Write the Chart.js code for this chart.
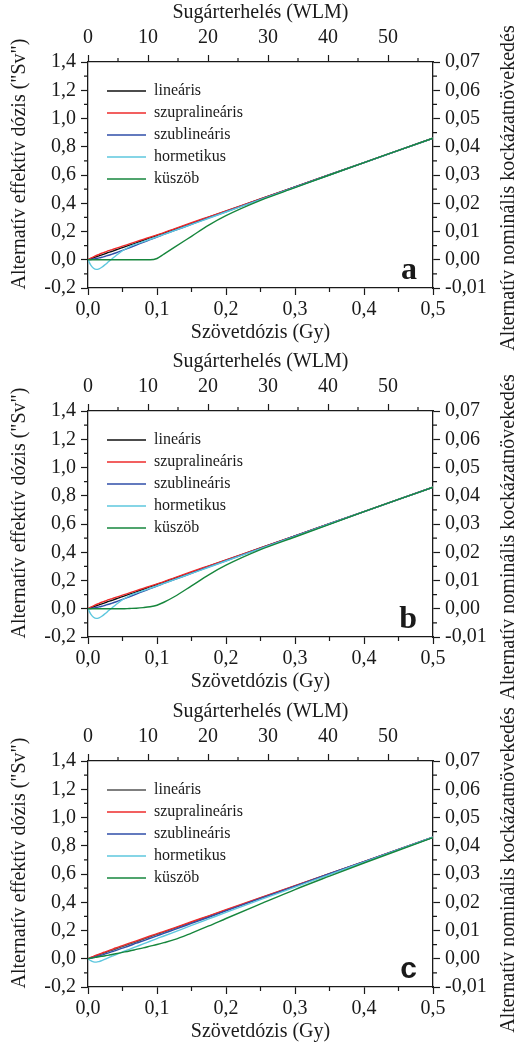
<!DOCTYPE html>
<html>
<head>
<meta charset="utf-8">
<script src="https://cdn.jsdelivr.net/npm/chart.js@4.4.1/dist/chart.umd.min.js"></script>
<style>
  html, body { margin: 0; padding: 0; background: #fff; }
  body { width: 521px; height: 1045px; overflow: hidden; position: relative; }
  canvas { position: absolute; left: 0; }
</style>
</head>
<body>
<canvas id="panelA" width="521" height="380" style="top:0px"></canvas>
<canvas id="panelB" width="521" height="380" style="top:349px"></canvas>
<canvas id="panelC" width="521" height="380" style="top:699px"></canvas>
<script>
// tissue dose grid (Gy), shared by every curve
const doseGy = [0, 0.004, 0.008, 0.012, 0.016, 0.02, 0.025, 0.03, 0.035, 0.04, 0.05, 0.06, 0.07,
  0.08, 0.09, 0.1, 0.11, 0.125, 0.15, 0.175, 0.2, 0.25, 0.3, 0.35, 0.4, 0.45, 0.5];

const seriesNames = ['lineáris', 'szupralineáris', 'szublineáris', 'hormetikus', 'küszöb'];

// alternative effective dose ("Sv")
const linearis = [0, 0.007, 0.014, 0.021, 0.028, 0.034, 0.043, 0.052, 0.060, 0.069, 0.086, 0.103, 0.120,
  0.138, 0.155, 0.172, 0.189, 0.215, 0.258, 0.301, 0.344, 0.430, 0.516, 0.602, 0.688, 0.774, 0.860];

const szupraAB = [0, 0.011, 0.021, 0.030, 0.038, 0.046, 0.055, 0.064, 0.072, 0.080, 0.096, 0.112, 0.128,
  0.144, 0.160, 0.176, 0.192, 0.219, 0.262, 0.304, 0.346, 0.431, 0.516, 0.602, 0.688, 0.774, 0.860];
const szubAB = [0, 0.002, 0.005, 0.009, 0.013, 0.018, 0.025, 0.032, 0.040, 0.048, 0.066, 0.085, 0.104,
  0.123, 0.142, 0.161, 0.179, 0.206, 0.251, 0.296, 0.340, 0.428, 0.515, 0.602, 0.688, 0.774, 0.860];
const hormAB = [0, -0.038, -0.060, -0.068, -0.064, -0.053, -0.034, -0.013, 0.007, 0.027, 0.064, 0.092, 0.112,
  0.128, 0.145, 0.162, 0.180, 0.206, 0.250, 0.294, 0.338, 0.426, 0.513, 0.600, 0.687, 0.774, 0.860];
const kuszobA = [0, 0, 0, 0, 0, 0, 0, 0, 0, 0, 0, 0, 0,
  0, 0, 0.009, 0.040, 0.087, 0.166, 0.245, 0.312, 0.420, 0.510, 0.600, 0.688, 0.774, 0.860];
const kuszobB = [0, 0, 0, 0, 0, 0, 0, 0, 0, 0, 0.000, 0.002, 0.004,
  0.008, 0.014, 0.025, 0.046, 0.085, 0.162, 0.240, 0.308, 0.418, 0.508, 0.598, 0.687, 0.774, 0.860];

const szupraC = [0, 0.009, 0.017, 0.025, 0.032, 0.040, 0.049, 0.058, 0.067, 0.076, 0.093, 0.110, 0.127,
  0.144, 0.161, 0.178, 0.194, 0.219, 0.262, 0.304, 0.347, 0.432, 0.517, 0.602, 0.688, 0.774, 0.860];
const szubC = [0, 0.004, 0.009, 0.014, 0.020, 0.026, 0.034, 0.042, 0.050, 0.058, 0.075, 0.092, 0.110,
  0.127, 0.145, 0.162, 0.180, 0.206, 0.250, 0.294, 0.339, 0.427, 0.514, 0.602, 0.688, 0.774, 0.860];
const hormC = [0, -0.014, -0.022, -0.024, -0.020, -0.013, -0.003, 0.008, 0.018, 0.028, 0.048, 0.067, 0.086,
  0.105, 0.124, 0.143, 0.161, 0.189, 0.236, 0.282, 0.328, 0.418, 0.507, 0.596, 0.684, 0.772, 0.860];
const kuszobC = [0, 0.004, 0.008, 0.011, 0.014, 0.017, 0.021, 0.026, 0.030, 0.035, 0.045, 0.055, 0.066,
  0.077, 0.089, 0.101, 0.114, 0.135, 0.182, 0.232, 0.285, 0.388, 0.490, 0.585, 0.678, 0.768, 0.858];

const serif = '"Liberation Serif", "Times New Roman", serif';
const ink = '#1a1a1a';

function fmt(v, d) {
  const r = Math.abs(v) < 1e-9 ? 0 : v;
  return r.toFixed(d).replace('.', ',');
}

// short outward minor ticks half way between the labelled ones
function minorTicks(ctx, scale, step, len) {
  const n = Math.round((scale.max - scale.min) / step);
  ctx.beginPath();
  for (let i = 1; i < n; i += 2) {
    const p = scale.getPixelForValue(scale.min + i * step);
    if (scale.position === 'bottom') { ctx.moveTo(p, scale.top); ctx.lineTo(p, scale.top + len); }
    if (scale.position === 'top') { ctx.moveTo(p, scale.bottom); ctx.lineTo(p, scale.bottom - len); }
    if (scale.position === 'left') { ctx.moveTo(scale.right, p); ctx.lineTo(scale.right - len, p); }
    if (scale.position === 'right') { ctx.moveTo(scale.left, p); ctx.lineTo(scale.left + len, p); }
  }
  ctx.stroke();
}

function sideTitle(ctx, text, x, y) {
  ctx.save();
  ctx.translate(x, y);
  ctx.rotate(-Math.PI / 2);
  ctx.textAlign = 'center';
  ctx.textBaseline = 'middle';
  ctx.fillText(text, 0, 0);
  ctx.restore();
}

const panelDecor = {
  id: 'panelDecor',
  afterLayout(chart) {
    // park the legend in the upper left of the plot
    const lg = chart.legend;
    const w = lg.width, h = chart.chartArea.bottom - chart.chartArea.top;
    lg.left = chart.chartArea.left + 13;
    lg.top = chart.chartArea.top + 15;
    lg.right = lg.left + w;
    lg.bottom = lg.top + h;
  },
  afterDraw(chart, args, opts) {
    const { ctx, chartArea, scales } = chart;
    ctx.save();
    ctx.strokeStyle = ink;
    ctx.lineWidth = 1.2;
    minorTicks(ctx, scales.x, 0.05, 4);
    minorTicks(ctx, scales.x2, 5, 4);
    minorTicks(ctx, scales.y, 0.1, 4);
    minorTicks(ctx, scales.y2, 0.005, 4);

    ctx.fillStyle = ink;
    ctx.font = '20px ' + serif;
    sideTitle(ctx, 'Alternatív effektív dózis ("Sv")', 20, opts.leftTitleY);
    sideTitle(ctx, 'Alternatív nominális kockázatnövekedés', 509, opts.rightTitleY);

    ctx.font = opts.letterFont;
    ctx.textAlign = 'right';
    ctx.textBaseline = 'alphabetic';
    ctx.fillText(opts.letter, chartArea.right - 16, chartArea.bottom - 9);
    ctx.restore();
  }
};

function axisStyle(extra) {
  return Object.assign({
    type: 'linear',
    grid: { drawOnChartArea: false, drawTicks: true, tickLength: 7, tickColor: ink, tickWidth: 1.2 },
    border: { display: true, color: ink, width: 1.3 }
  }, extra);
}

function buildPanel(id, series, colors, decor) {
  const datasets = seriesNames.map((name, i) => ({
    label: name,
    data: doseGy.map((x, k) => ({ x: x, y: series[i][k] })),
    borderColor: colors[i],
    backgroundColor: colors[i],
    borderWidth: 1.4,
    pointRadius: 0,
    cubicInterpolationMode: 'monotone',
    order: seriesNames.length - 1 - i,
    xAxisID: 'x',
    yAxisID: 'y'
  }));

  const tickFont = { family: serif, size: 20 };
  const titleFont = { family: serif, size: 20 };

  return new Chart(document.getElementById(id), {
    type: 'line',
    data: { datasets: datasets },
    plugins: [panelDecor],
    options: {
      responsive: false,
      animation: false,
      devicePixelRatio: 1,
      layout: { padding: { left: 0, right: 0, top: 0, bottom: 31 } },
      scales: {
        x: axisStyle({
          position: 'bottom', min: 0, max: 0.5,
          ticks: { stepSize: 0.1, autoSkip: false, maxRotation: 0, padding: 3, font: tickFont, color: ink,
            callback: v => fmt(v, 1) },
          title: { display: true, text: 'Szövetdózis (Gy)', font: titleFont, color: ink, padding: { top: 0, bottom: 4 } },
          afterFit: s => { s.height = 61; }
        }),
        x2: axisStyle({
          position: 'top', min: 0, max: 57.5,
          ticks: { stepSize: 10, includeBounds: false, autoSkip: false, maxRotation: 0, padding: 5, font: tickFont, color: ink,
            callback: v => String(Math.round(v)) },
          title: { display: true, text: 'Sugárterhelés (WLM)', font: titleFont, color: ink, padding: { top: 1, bottom: 0 } },
          afterFit: s => { s.height = 62; }
        }),
        y: axisStyle({
          position: 'left', min: -0.2, max: 1.4,
          ticks: { stepSize: 0.2, autoSkip: false, padding: 5, font: tickFont, color: ink, callback: v => fmt(v, 1) },
          afterFit: s => { s.width = 88; }
        }),
        y2: axisStyle({
          position: 'right', min: -0.01, max: 0.07,
          ticks: { stepSize: 0.01, autoSkip: false, padding: 5, font: tickFont, color: ink, callback: v => fmt(v, 2) },
          afterFit: s => { s.width = 88; }
        })
      },
      plugins: {
        tooltip: { enabled: false },
        legend: {
          position: 'chartArea',
          align: 'start',
          labels: {
            usePointStyle: true,
            pointStyle: 'line',
            pointStyleWidth: 39,
            padding: 6,
            color: ink,
            font: { family: serif, size: 16 },
            sort: (a, b) => a.datasetIndex - b.datasetIndex
          }
        },
        panelDecor: decor
      }
    }
  });
}

const colorsAB = ['#111111', '#ee2b2b', '#2f4ea8', '#5ec7de', '#16863c'];
const colorsC = ['#555555', '#ee2b2b', '#2f4ea8', '#5ec7de', '#16863c'];

buildPanel('panelA', [linearis, szupraAB, szubAB, hormAB, kuszobA], colorsAB,
  { letter: 'a', letterFont: 'bold 32px ' + serif, leftTitleY: 164, rightTitleY: 188 });
buildPanel('panelB', [linearis, szupraAB, szubAB, hormAB, kuszobB], colorsAB,
  { letter: 'b', letterFont: 'bold 32px ' + serif, leftTitleY: 164, rightTitleY: 188 });
buildPanel('panelC', [linearis, szupraC, szubC, hormC, kuszobC], colorsC,
  { letter: 'c', letterFont: 'bold 30px "Liberation Sans", Arial, sans-serif', leftTitleY: 164, rightTitleY: 171 });
</script>
</body>
</html>
